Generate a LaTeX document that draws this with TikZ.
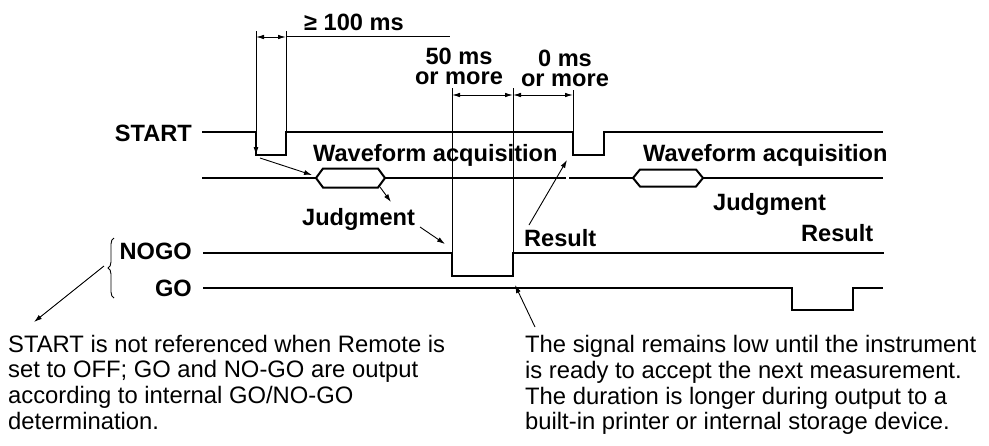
\documentclass[tikz,border=0pt]{standalone}
\usepackage{fontspec}
\setmainfont{Liberation Sans}
\usetikzlibrary{arrows.meta,decorations.pathreplacing}
\tikzset{
  sig/.style={line width=2pt, line join=miter},
  dimline/.style={line width=0.9pt},
  ann/.style={line width=0.9pt, -{Latex[length=8pt,width=5pt]}},
  dimarr/.style={line width=0.9pt, {Latex[length=8pt,width=4.5pt]}-{Latex[length=8pt,width=4.5pt]}},
  lbl/.style={font=\bfseries\fontsize{23.6}{20.5}\selectfont, inner sep=0pt},
  note/.style={font=\fontsize{23.8}{25.8}\selectfont, inner sep=0pt, align=left, anchor=north west},
}
\begin{document}
\begin{tikzpicture}[x=1pt,y=-1pt]
\useasboundingbox (0,0) rectangle (989,445);

% ---------- signal labels ----------
\node[lbl, anchor=base east] (start) at (192,141) {START};
\node[lbl, anchor=base east] (nogo) at (192,259.5) {NOGO};
\node[lbl, anchor=base east] (go) at (192,296.7) {GO};

% ---------- START signal ----------
\draw[sig] (202,132) -- (256,132) -- (256,155) -- (286,155) -- (286,132)
  -- (573,132) -- (573,155) -- (604,155) -- (604,132) -- (883,132);
\coordinate (s1bot) at (260,158);

% ---------- waveform acquisition line ----------
\coordinate (h1L) at (316,178);
\coordinate (h1R) at (385,178);
\coordinate (h2L) at (633,178);
\coordinate (h2R) at (703,178);
\coordinate (h1in) at (312,175);
\draw[sig] (202,178) -- (h1L);
\draw[sig] (h1L) -- (323,168.5) -- (378,168.5) -- (h1R) -- (378,187.5) -- (323,187.5) -- cycle;
\draw[sig] (h1R) -- (566,178);
\draw[sig] (569,178) -- (h2L);
\draw[sig] (h2L) -- (640,169.5) -- (696,169.5) -- (h2R) -- (696,186.5) -- (640,186.5) -- cycle;
\draw[sig] (h2R) -- (883,178);

% ---------- NOGO / GO signals ----------
\draw[sig] (203,253) -- (452,253) -- (452,276) -- (513,276) -- (513,253) -- (884,253);
\draw[sig] (203,288) -- (792,288) -- (792,310) -- (853,310) -- (853,288) -- (883,288);

% ---------- dimension lines ----------
\draw[dimline, -{Latex[length=8pt,width=5pt]}] (256,31) -- (256,155);
\draw[dimline] (286,31) -- (286,132);
\draw[dimarr] (256,37) -- (286,37);
\draw[dimline] (286,36) -- (450,36);
\node[lbl, anchor=base west] (t100) at (304,30.5) {≥ 100 ms};

\draw[dimline] (452,88) -- (452,253);
\draw[dimline] (513,88) -- (513,253);
\draw[dimline] (573,90) -- (573,132);
\draw[dimarr] (452,95) -- (513,95);
\draw[dimarr] (513,95) -- (573,95);
\node[lbl, align=center, anchor=south] (t50) at (459,85) {50 ms\\or more};
\node[lbl, align=center, anchor=south] (t0) at (565,87.3) {0 ms\\or more};

% ---------- texts ----------
\node[lbl, anchor=base west] (wa1) at (313,161) {Waveform acquisition};
\node[lbl, anchor=base west] (wa2) at (643,161.5) {Waveform acquisition};
\node[lbl, anchor=base west] (judg1) at (302,225) {Judgment};
\node[lbl, anchor=base west] (judg2) at (713,210.7) {Judgment};
\node[lbl, anchor=base west] (res1) at (524,246.7) {Result};
\node[lbl, anchor=base west] (res2) at (801,241.7) {Result};

% ---------- annotation arrows ----------
\coordinate (h1bot) at (380,187);
\coordinate (j1out) at (391,202);
\coordinate (j1from) at (420,227);
\coordinate (nogofall) at (445,244);
\coordinate (r1from) at (529,225);
\coordinate (gapend) at (567,160);
\coordinate (nrfrom) at (535,327);
\coordinate (norise) at (515,285);
\coordinate (brtip) at (104,266);
\coordinate (nltip) at (34,322);
\draw[ann] (s1bot) -- (h1in);
\draw[ann] (h1bot) -- (j1out);
\draw[ann] (j1from) -- (nogofall);
\draw[ann] (r1from) -- (gapend);
\draw[ann] (nrfrom) -- (norise);
\draw[ann] (brtip) -- (nltip);

% ---------- brace ----------
\draw[line width=0.9pt, decorate, decoration={brace, amplitude=6pt}] (114,298) -- (114,238);

% ---------- notes ----------
\node[note] (noteL) at (8,334.7) {START is not referenced when Remote is\\set to OFF; GO and NO-GO are output\\according to internal GO/NO-GO\\determination.};
\node[note] (noteR) at (525,335) {The signal remains low until the instrument\\is ready to accept the next measurement.\\The duration is longer during output to a\\built-in printer or internal storage device.};
\end{tikzpicture}
\end{document}
